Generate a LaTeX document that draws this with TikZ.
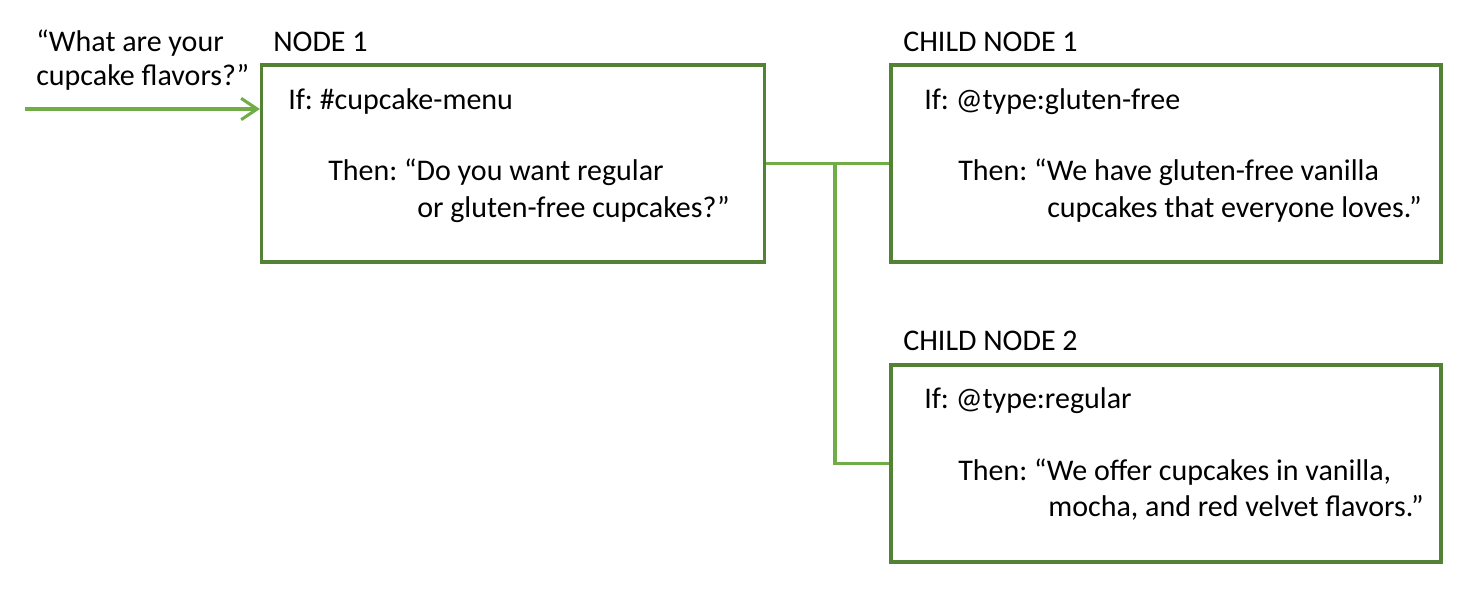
\documentclass[tikz,border=0pt]{standalone}
\usepackage{fontspec}
\setmainfont{Carlito}
\usetikzlibrary{arrows.meta}
\definecolor{boxgreen}{HTML}{548235}
\definecolor{linegreen}{HTML}{70AD47}
\tikzset{
  box/.style={draw=boxgreen, line width=2.4pt, inner sep=0pt},
  conn/.style={draw=linegreen, line width=2.3pt},
  txt/.style={anchor=base west, inner sep=0pt, font=\fontsize{22.5}{27.75}\selectfont\frenchspacing},
}
\begin{document}
\begin{tikzpicture}[x=0.75pt, y=-0.75pt]
\useasboundingbox (0,0) rectangle (1477,597);
% boxes
\node[box, minimum width=503*0.75pt, minimum height=197*0.75pt] (n1) at (513,163.5) {};
\node[box, minimum width=550*0.75pt, minimum height=197*0.75pt] (c1) at (1166,163.5) {};
\node[box, minimum width=550*0.75pt, minimum height=197*0.75pt] (c2) at (1166,463.5) {};
% texts
\node[txt] (q1) at (36,51) {“What are your};
\node[txt] (q2) at (36,85) {cupcake flavors?”};
\node[txt] (l1) at (273,51) {NODE 1};
\node[txt] (n1if) at (288,109) {If: \#cupcake-menu};
\node[txt] (n1t1) at (328,180) {Then: “Do you want regular};
\node[txt] (n1t2) at (417,217) {or gluten-free cupcakes?”};
\node[txt] (l2) at (903,51) {CHILD NODE 1};
\node[txt] (c1if) at (924,109) {If: @type:gluten-free};
\node[txt] (c1t1) at (958,180) {Then: “We have gluten-free vanilla};
\node[txt] (c1t2) at (1047,217) {cupcakes that everyone loves.”};
\node[txt] (l3) at (903,350) {CHILD NODE 2};
\node[txt] (c2if) at (924,408) {If: @type:regular};
\node[txt] (c2t1) at (958,480) {Then: “We offer cupcakes in vanilla,};
\node[txt] (c2t2) at (1048,516) {mocha, and red velvet flavors.”};
% connectors
\coordinate (start) at (25,109);
\draw[conn, -{Straight Barb[length=12pt, width=16pt, line width=2.3pt]}] (start) -- (start -| n1.west);
\coordinate (j) at (835,163.5);
\draw[conn] (n1.east) -- (c1.west);
\draw[conn] (j) |- (c2.west);
\end{tikzpicture}
\end{document}
